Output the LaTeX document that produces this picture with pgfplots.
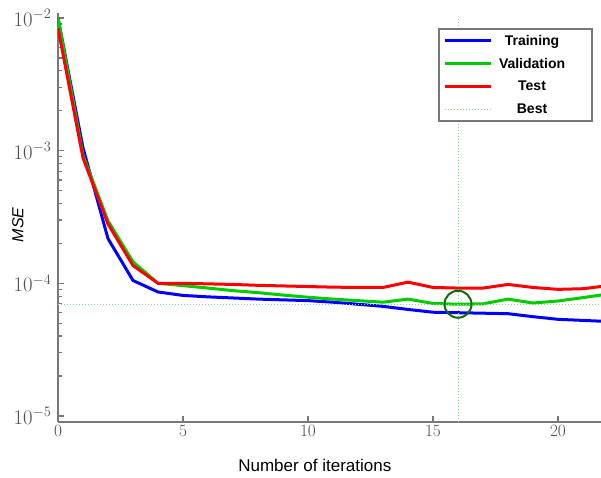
\documentclass[border=0pt]{standalone}
\usepackage{pgfplots}
\pgfplotsset{compat=1.18}
\usepackage{fontspec}
\setmainfont{Liberation Sans}
\usetikzlibrary{calc}
\definecolor{tr}{RGB}{0,0,255}
\definecolor{va}{RGB}{0,205,0}
\definecolor{te}{RGB}{255,0,0}
\definecolor{be}{RGB}{140,210,140}
\definecolor{ci}{RGB}{10,110,10}
\definecolor{ax}{RGB}{120,120,120}
\definecolor{tl}{RGB}{80,80,80}
\newcommand{\legtxt}[1]{\makebox[92pt][l]{\makebox[76pt][c]{#1}}}
\begin{document}
\begin{tikzpicture}
\begin{axis}[
  scale only axis, width=543pt, height=409pt,
  xmin=0, xmax=21.72, ymode=log, ymin=9e-6, ymax=1.09e-2,
  axis x line=bottom, axis y line=left,
  axis line style={-, ax, line width=1.6pt},
  every tick/.style={ax, line width=1.2pt},
  major tick length=6pt, minor tick length=4pt,
  tick align=inside,
  xtick={0,5,10,15,20},
  ytick={1e-5,1e-4,1e-3,1e-2},
  xticklabel style={tl, font=\fontsize{17}{20}\selectfont},
  yticklabel style={tl, font=\fontsize{20}{23}\selectfont, xshift=-3pt},
  xlabel={Number of iterations},
  ylabel={\itshape MSE},
  xlabel style={at={(axis description cs:0.473,-0.122)}, anchor=base, font=\fontsize{17}{20}\selectfont},
  ylabel style={at={(axis description cs:-0.0737,0.482)}, anchor=center, font=\fontsize{16}{20}\selectfont},
  legend style={at={(axis description cs:0.985,0.963)}, anchor=north east,
    draw=ax, line width=1.6pt, font=\fontsize{14}{16}\bfseries,
    inner sep=4pt, row sep=7.5pt,
    nodes={inner sep=2pt}},
  legend image code/.code={\draw[#1] (0pt,0pt) -- (46pt,0pt);},
  clip=true,
]
\addplot[tr, line width=3pt] coordinates {
(0,1.0e-2) (1,1.05e-3) (2,2.17e-4) (3,1.05e-4) (4,8.6e-5) (5,8.1e-5) (6,7.9e-5) (7,7.75e-5) (8,7.6e-5) (9,7.5e-5) (10,7.4e-5) (11,7.2e-5) (12,6.95e-5) (13,6.7e-5) (14,6.35e-5) (15,6.05e-5) (16,6.0e-5) (17,5.95e-5) (18,5.9e-5) (19,5.6e-5) (20,5.35e-5) (21,5.25e-5) (22,5.15e-5)};
\addlegendentry{\legtxt{Training}}
\addplot[va, line width=3pt] coordinates {
(0,1.0e-2) (1,9.2e-4) (2,2.95e-4) (3,1.45e-4) (4,1.0e-4) (5,9.6e-5) (6,9.2e-5) (7,8.8e-5) (8,8.5e-5) (9,8.15e-5) (10,7.85e-5) (11,7.6e-5) (12,7.4e-5) (13,7.2e-5) (14,7.6e-5) (15,7.05e-5) (16,6.95e-5) (17,7.0e-5) (18,7.6e-5) (19,7.1e-5) (20,7.35e-5) (21,7.8e-5) (22,8.3e-5)};
\addlegendentry{\legtxt{Validation}}
\addplot[te, line width=3pt] coordinates {
(0,8.4e-3) (1,8.8e-4) (2,2.8e-4) (3,1.36e-4) (4,1.0e-4) (5,1.0e-4) (6,9.9e-5) (7,9.8e-5) (8,9.65e-5) (9,9.55e-5) (10,9.45e-5) (11,9.35e-5) (12,9.3e-5) (13,9.3e-5) (14,1.02e-4) (15,9.3e-5) (16,9.2e-5) (17,9.2e-5) (18,9.8e-5) (19,9.3e-5) (20,9.0e-5) (21,9.1e-5) (22,9.6e-5)};
\addlegendentry{\legtxt{Test}}
\addplot[be, dotted, line width=1pt] coordinates {(0,6.95e-5) (22,6.95e-5)};
\addlegendentry{\legtxt{Best}}
\addplot[be, dotted, line width=1pt, forget plot] coordinates {(16,9e-6) (16,1.0e-2)};
\addplot[ci, only marks, mark=o, mark size=13.5pt, mark options={line width=2pt}, forget plot] coordinates {(16,6.95e-5)};
\end{axis}
\pgfresetboundingbox
\useasboundingbox ($(current axis.south west)+(-58pt,-56pt)$) rectangle ($(current axis.north east)+(0pt,13pt)$);
\end{tikzpicture}
\end{document}
